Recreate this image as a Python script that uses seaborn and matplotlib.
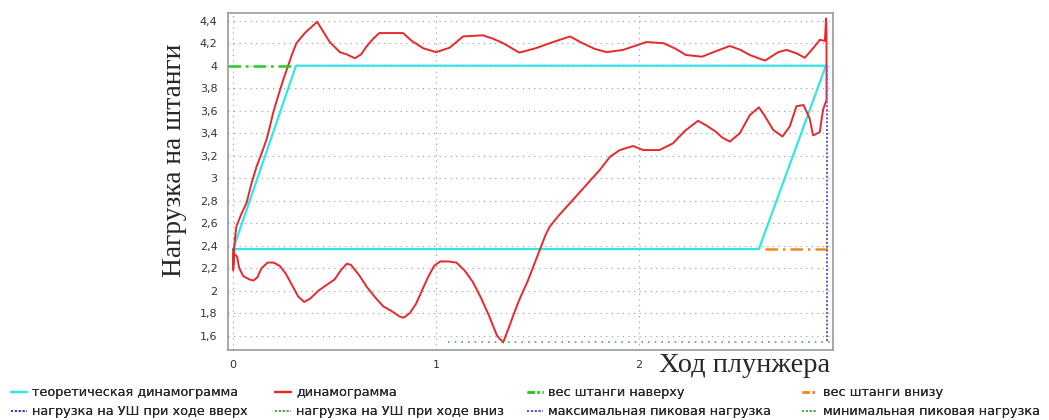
import numpy as np
import pandas as pd
import seaborn as sns
import matplotlib.pyplot as plt
from matplotlib.lines import Line2D
from matplotlib.ticker import MultipleLocator, FuncFormatter

# theoretical dynamogram (parallelogram)
theory_x = [0.0, 0.31, 2.92, 2.59, 0.0]
theory_y = [2.37, 4.0, 4.0, 2.37, 2.37]

# measured dynamogram, upstroke (left to right)
up_x = [0.0, 0.0, 0.008, 0.016, 0.04, 0.066, 0.09, 0.115, 0.14, 0.164, 0.18,
        0.197, 0.22, 0.246, 0.271, 0.29, 0.312, 0.353, 0.39, 0.414, 0.445,
        0.476, 0.526, 0.56, 0.6, 0.63, 0.657, 0.69, 0.72, 0.78, 0.837, 0.88,
        0.936, 1.0, 1.067, 1.133, 1.23, 1.28, 1.33, 1.41, 1.46, 1.49, 1.576,
        1.66, 1.71, 1.78, 1.84, 1.92, 2.036, 2.12, 2.18, 2.23, 2.31, 2.38,
        2.447, 2.5, 2.545, 2.62, 2.685, 2.726, 2.775, 2.816, 2.857, 2.89,
        2.915, 2.921, 2.923]
up_y = [2.37, 2.2, 2.45, 2.57, 2.68, 2.78, 2.95, 3.1, 3.22, 3.34, 3.45,
        3.58, 3.72, 3.87, 4.0, 4.1, 4.2, 4.29, 4.35, 4.39, 4.3,
        4.21, 4.12, 4.1, 4.066, 4.1, 4.17, 4.24, 4.29, 4.29, 4.29, 4.22,
        4.155, 4.12, 4.16, 4.26, 4.27, 4.24, 4.2, 4.116, 4.14, 4.155, 4.21,
        4.26, 4.21, 4.15, 4.12, 4.14, 4.21, 4.2, 4.15, 4.095, 4.08, 4.13,
        4.175, 4.14, 4.095, 4.045, 4.12, 4.14, 4.11, 4.07, 4.155, 4.23,
        4.22, 4.42, 4.3]

# measured dynamogram, downstroke (right to left)
down_x = [2.923, 2.906, 2.89, 2.857, 2.84, 2.81, 2.775, 2.742, 2.706, 2.66,
          2.62, 2.59, 2.545, 2.496, 2.447, 2.41, 2.38, 2.33, 2.29, 2.225,
          2.167, 2.1, 2.02, 1.97, 1.905, 1.856, 1.806, 1.76, 1.72, 1.675,
          1.64, 1.6, 1.56, 1.54, 1.51, 1.478, 1.45, 1.41, 1.38, 1.36, 1.33,
          1.3, 1.26, 1.22, 1.18, 1.14, 1.1, 1.06, 1.02, 0.99, 0.96, 0.93, 0.9,
          0.87, 0.84, 0.82, 0.78, 0.74, 0.7, 0.66, 0.62, 0.58, 0.56, 0.53, 0.5,
          0.46, 0.42, 0.38, 0.35, 0.32, 0.29, 0.26, 0.23, 0.2, 0.17, 0.14,
          0.12, 0.1, 0.08, 0.05, 0.03, 0.02, 0.01, 0.003, 0.0]
down_y = [3.695, 3.61, 3.41, 3.38, 3.53, 3.65, 3.64, 3.46, 3.37, 3.43,
          3.55, 3.63, 3.56, 3.4, 3.325, 3.36, 3.41, 3.47, 3.51, 3.42,
          3.31, 3.25, 3.25, 3.286, 3.25, 3.19, 3.073, 2.98, 2.9, 2.81,
          2.74, 2.66, 2.57, 2.5, 2.36, 2.21, 2.08, 1.92, 1.78, 1.68, 1.54,
          1.6, 1.78, 1.94, 2.08, 2.18, 2.25, 2.26, 2.26, 2.22, 2.12, 2.0, 1.88,
          1.8, 1.76, 1.77, 1.82, 1.86, 1.94, 2.03, 2.14, 2.23, 2.24, 2.18, 2.1,
          2.05, 2.0, 1.93, 1.9, 1.95, 2.05, 2.15, 2.22, 2.25, 2.25, 2.2,
          2.12, 2.09, 2.1, 2.13, 2.2, 2.3, 2.32, 2.3, 2.18]

top_weight_x = [-0.025, 0.29]
top_weight_y = [4.0, 4.0]
bottom_weight_x = [2.62, 2.96]
bottom_weight_y = [2.37, 2.37]
peak_max_x = [2.925, 2.925]
peak_max_y = [1.55, 3.6]
up_load_x = [2.925, 2.925]
up_load_y = [3.6, 4.0]
peak_min_x = [1.06, 2.95]
peak_min_y = [1.54, 1.54]

legend_labels = [
    "теоретическая динамограмма", "динамограмма",
    "вес штанги наверху", "вес штанги внизу",
    "нагрузка на УШ при ходе вверх", "нагрузка на УШ при ходе вниз",
    "максимальная пиковая нагрузка", "минимальная пиковая нагрузка",
]

sns.set_style("white")
plt.rcParams["font.family"] = ["DejaVu Sans"]

fig = plt.figure(figsize=(10.49, 4.2), dpi=100)
ax = fig.add_axes([0.2174, 0.1667, 0.5767, 0.8023])

df_theory = pd.DataFrame({"x": theory_x, "y": theory_y})
df_dyn = pd.DataFrame({"x": up_x + down_x, "y": up_y + down_y})

sns.lineplot(data=df_theory, x="x", y="y", sort=False, estimator=None,
             color="#33e6e6", linewidth=1.6, ax=ax)
sns.lineplot(data=df_dyn, x="x", y="y", sort=False, estimator=None,
             color="#e8282d", linewidth=1.4, ax=ax)
ax.plot(top_weight_x, top_weight_y, color="#22cc22", linewidth=1.8,
        linestyle=(0, (5, 2, 1, 2)))
ax.plot(bottom_weight_x, bottom_weight_y, color="#f08a1c", linewidth=1.8,
        linestyle=(0, (5, 2, 1, 2)))
ax.plot(peak_max_x, peak_max_y, color="#6a4fc8", linewidth=1.4,
        linestyle=(0, (1, 1)))
ax.plot(up_load_x, up_load_y, color="#8a5ad8", linewidth=1.4,
        linestyle=(0, (1, 1)))
ax.plot(peak_min_x, peak_min_y, color="#4caf50", linewidth=1.2,
        linestyle=(0, (1, 3)))

ax.set_xlim(-0.025, 2.955)
ax.set_ylim(1.473, 4.468)
ax.xaxis.set_major_locator(MultipleLocator(1))
ax.xaxis.set_minor_locator(MultipleLocator(0.25))
ax.yaxis.set_major_locator(MultipleLocator(0.2))
ax.yaxis.set_minor_locator(MultipleLocator(0.04))
ax.yaxis.set_major_formatter(FuncFormatter(
    lambda v, p: ("%.1f" % v).rstrip("0").rstrip(".").replace(".", ",")))
ax.tick_params(axis="both", which="major", direction="out", length=4,
               color="#888888", labelsize=8, labelcolor="#333333")
ax.tick_params(axis="both", which="minor", direction="out", length=2,
               color="#888888")
ax.grid(True, which="major", color="#999999", linestyle=(0, (1, 4)),
        linewidth=0.8)
for s in ax.spines.values():
    s.set_color("#999999")
    s.set_linewidth(1.2)

ax.set_xlabel("")
ax.set_ylabel("")
fig.text(0.1668, 0.619, "Нагрузка на штанги", fontsize=19.8,
         family="Liberation Serif", rotation=90, ha="center", va="center")
fig.text(0.710, 0.129, "Ход плунжера", fontsize=20.4,
         family="Liberation Serif", ha="center", va="center")

dashdot = (0, (3, 1, 1, 1))
handles = [
    Line2D([], [], color="#33e6e6", linewidth=1.6),
    Line2D([], [], color="#e8282d", linewidth=1.6),
    Line2D([], [], color="#22cc22", linewidth=1.8, linestyle=dashdot),
    Line2D([], [], color="#f08a1c", linewidth=1.8, linestyle=dashdot),
    Line2D([], [], color="#3a3acc", linewidth=1.4, linestyle=(0, (1, 1))),
    Line2D([], [], color="#4caf50", linewidth=1.4, linestyle=(0, (1, 1))),
    Line2D([], [], color="#6a4fc8", linewidth=1.4, linestyle=(0, (1, 1))),
    Line2D([], [], color="#4caf50", linewidth=1.4, linestyle=(0, (1, 1))),
]

# one legend per column so the columns sit where the reference has them
col_x = [0.0105, 0.2622, 0.5024, 0.7645]
for i, cx in enumerate(col_x):
    leg = fig.legend([handles[i], handles[i + 4]],
                     [legend_labels[i], legend_labels[i + 4]],
                     loc="upper left", bbox_to_anchor=(cx, 0.08),
                     frameon=False, prop={"family": "DejaVu Sans", "size": 9.3},
                     handlelength=1.2, handletextpad=0.45, labelspacing=0.45,
                     borderpad=0, borderaxespad=0)
    fig.add_artist(leg)

fig.savefig("out.png", dpi=100)
